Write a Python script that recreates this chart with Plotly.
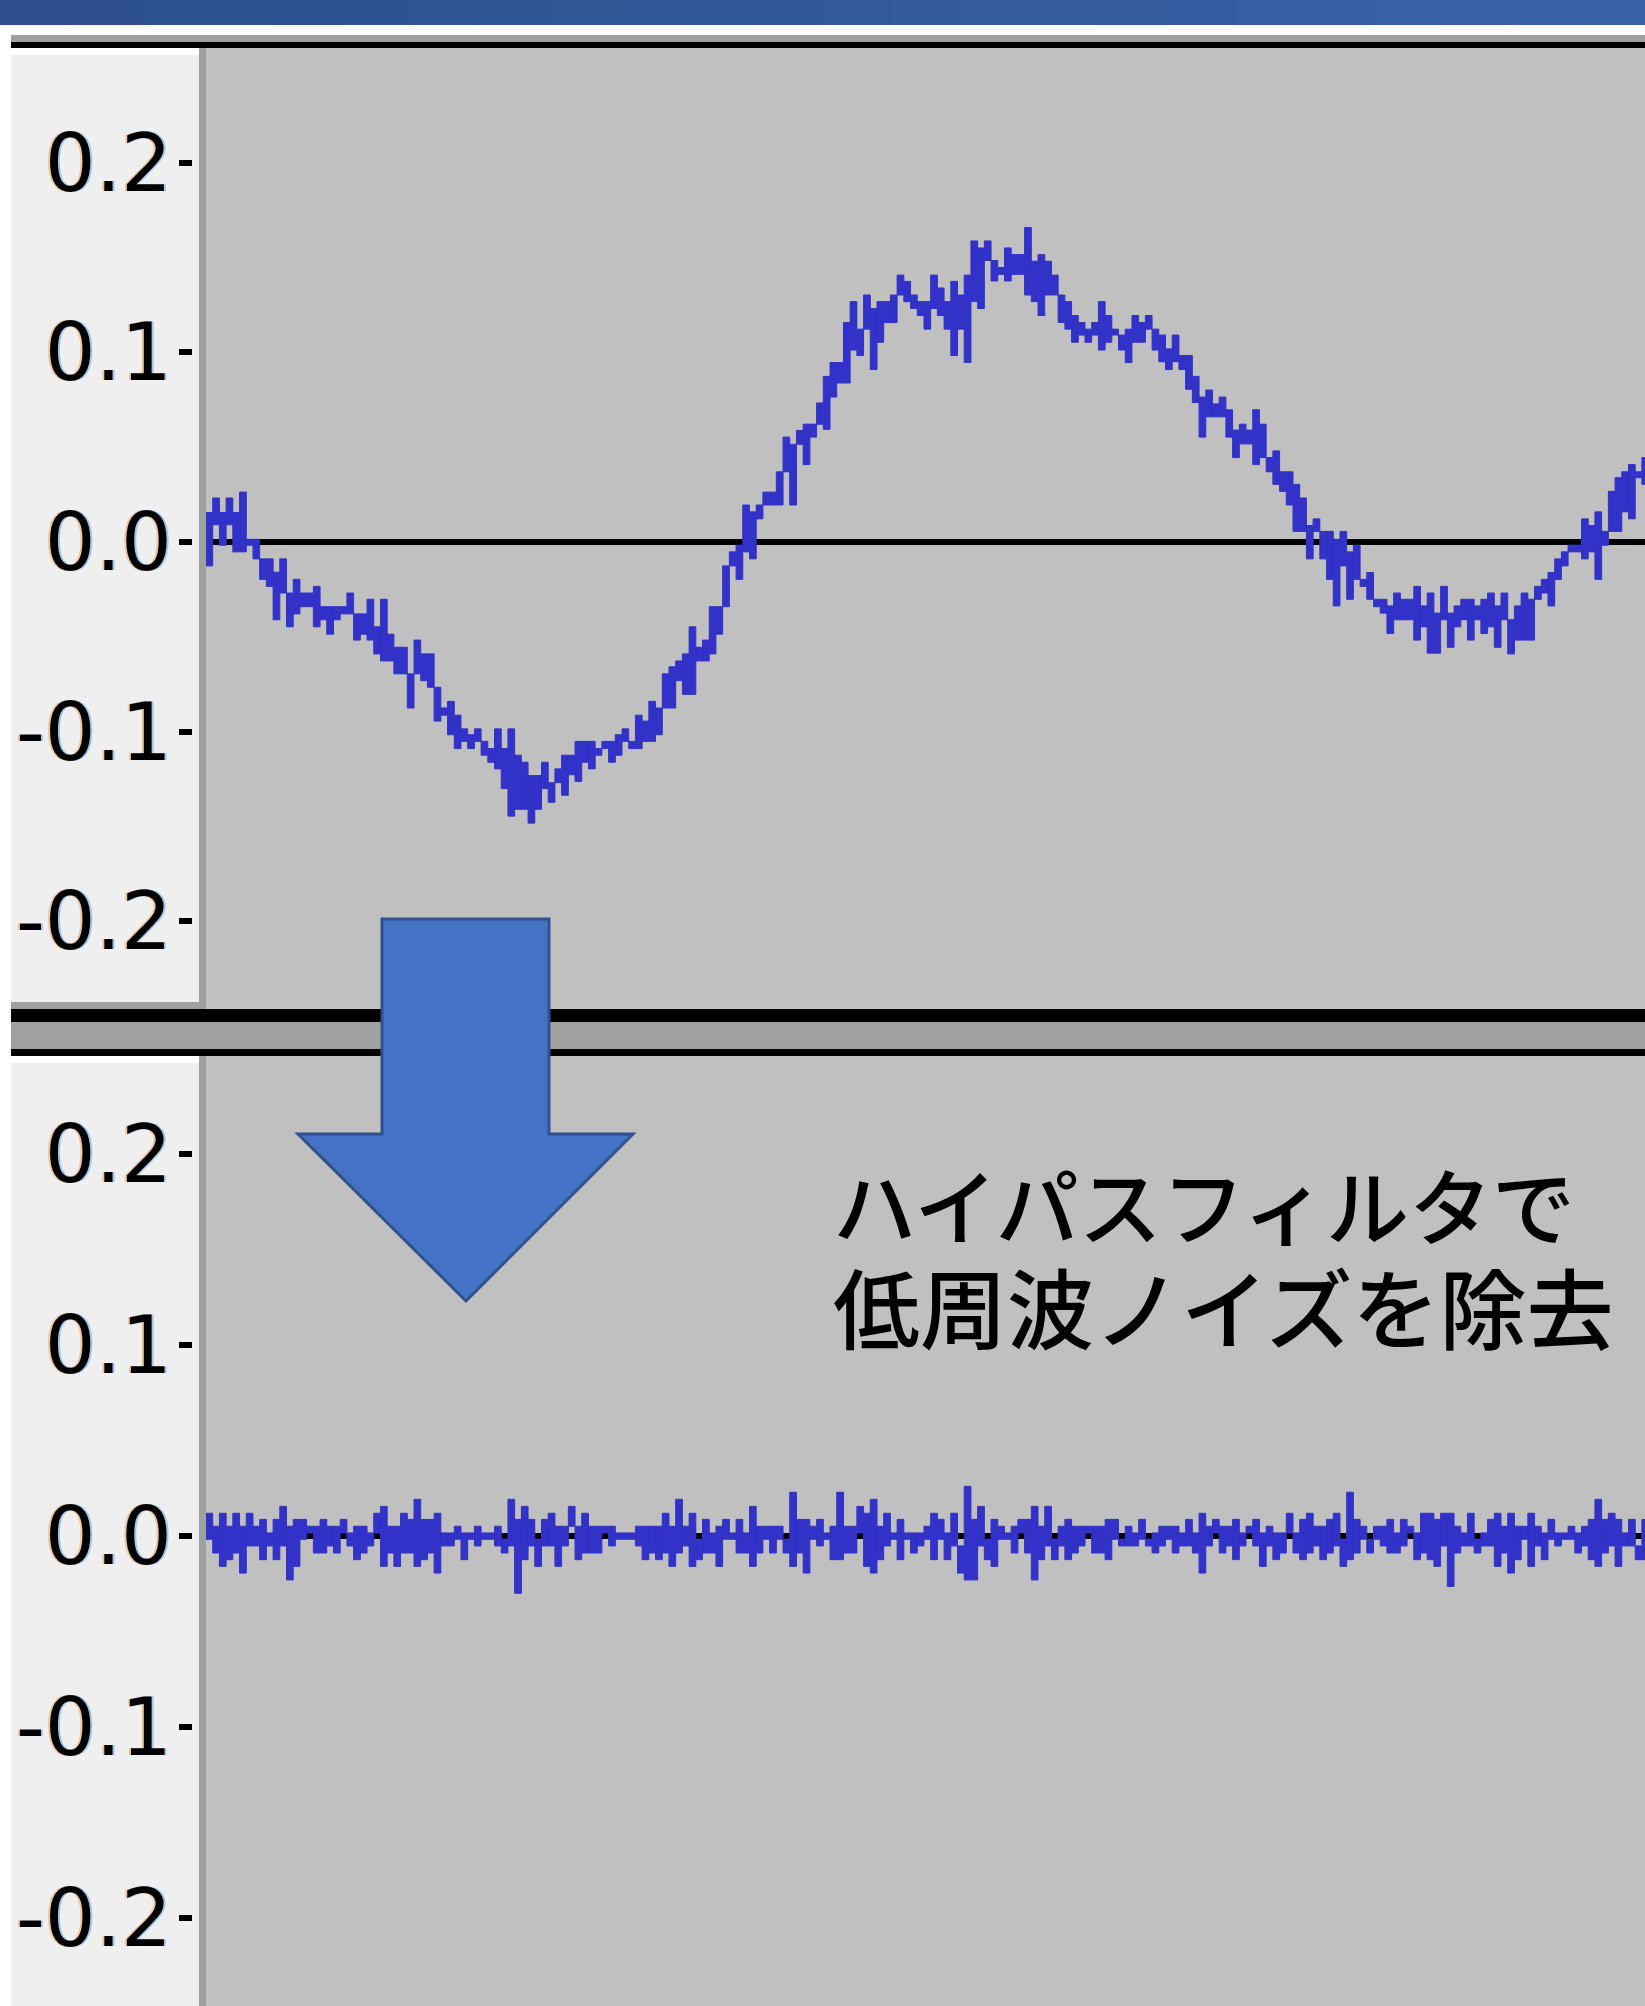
import plotly.graph_objects as go

W, H = 1645, 2006

# ---- waveform data: per screen column, the max (HI) and min (LO) sample value ----
TOP_HI = [
    0.0155, 0.0232, 0.0155, 0.0232, 0.0155, 0.0263, 0.0014, 0.0014, -0.0089, -0.0089,
    -0.0159, -0.0089, -0.0269, -0.0197, -0.0269, -0.0269, -0.0234, -0.0341, -0.0341, -0.0341,
    -0.0341, -0.0269, -0.0379, -0.0379, -0.0302, -0.0447, -0.0302, -0.0486, -0.0555, -0.0555,
    -0.0695, -0.0517, -0.0590, -0.0590, -0.0766, -0.0875, -0.0840, -0.0913, -0.0985, -0.1016,
    -0.0985, -0.1051, -0.1089, -0.0985, -0.1089, -0.0985, -0.1124, -0.1161, -0.1231, -0.1231,
    -0.1161, -0.1269, -0.1196, -0.1124, -0.1124, -0.1051, -0.1051, -0.1051, -0.1089, -0.1051,
    -0.1051, -0.1016, -0.0985, -0.1051, -0.0913, -0.0944, -0.0840, -0.0875, -0.0695, -0.0658,
    -0.0627, -0.0590, -0.0447, -0.0555, -0.0517, -0.0341, -0.0341, -0.0126, -0.0052, -0.0017,
    0.0195, 0.0159, 0.0195, 0.0263, 0.0263, 0.0370, 0.0553, 0.0515, 0.0588, 0.0621,
    0.0621, 0.0733, 0.0873, 0.0946, 0.0946, 0.1157, 0.1267, 0.1122, 0.1302, 0.1231,
    0.1267, 0.1267, 0.1302, 0.1407, 0.1374, 0.1302, 0.1267, 0.1267, 0.1407, 0.1339,
    0.1267, 0.1374, 0.1302, 0.1407, 0.1587, 0.1550, 0.1587, 0.1484, 0.1447, 0.1550,
    0.1515, 0.1515, 0.1658, 0.1480, 0.1515, 0.1480, 0.1407, 0.1302, 0.1267, 0.1194,
    0.1157, 0.1122, 0.1157, 0.1267, 0.1194, 0.1122, 0.1091, 0.1122, 0.1194, 0.1157,
    0.1194, 0.1122, 0.1091, 0.1018, 0.1091, 0.0983, 0.0983, 0.0873, 0.0764, 0.0801,
    0.0728, 0.0764, 0.0697, 0.0590, 0.0621, 0.0590, 0.0697, 0.0621, 0.0445, 0.0480,
    0.0370, 0.0370, 0.0304, 0.0232, 0.0087, 0.0122, 0.0056, 0.0056, 0.0014, 0.0056,
    -0.0052, -0.0017, -0.0197, -0.0161, -0.0302, -0.0302, -0.0337, -0.0269, -0.0302, -0.0302,
    -0.0234, -0.0337, -0.0269, -0.0375, -0.0234, -0.0375, -0.0337, -0.0302, -0.0302, -0.0337,
    -0.0302, -0.0269, -0.0337, -0.0269, -0.0410, -0.0337, -0.0269, -0.0302, -0.0234, -0.0197,
    -0.0161, -0.0089, -0.0052, -0.0017, -0.0017, 0.0122, 0.0087, 0.0159, 0.0056, 0.0267,
    0.0339, 0.0370, 0.0408, 0.0370, 0.0445,
]
TOP_LO = [
    -0.0126, 0.0091, -0.0017, 0.0091, -0.0052, -0.0052, -0.0017, -0.0089, -0.0197, -0.0234,
    -0.0410, -0.0269, -0.0447, -0.0379, -0.0341, -0.0341, -0.0447, -0.0410, -0.0486, -0.0410,
    -0.0379, -0.0379, -0.0517, -0.0486, -0.0517, -0.0590, -0.0627, -0.0627, -0.0695, -0.0695,
    -0.0875, -0.0695, -0.0731, -0.0766, -0.0944, -0.0913, -0.1016, -0.1089, -0.1051, -0.1089,
    -0.1051, -0.1124, -0.1161, -0.1196, -0.1300, -0.1445, -0.1409, -0.1409, -0.1482, -0.1409,
    -0.1300, -0.1372, -0.1269, -0.1335, -0.1227, -0.1262, -0.1161, -0.1196, -0.1124, -0.1089,
    -0.1161, -0.1124, -0.1051, -0.1089, -0.1089, -0.1051, -0.1051, -0.1016, -0.0875, -0.0875,
    -0.0731, -0.0803, -0.0803, -0.0627, -0.0627, -0.0590, -0.0486, -0.0341, -0.0126, -0.0197,
    -0.0052, -0.0089, 0.0122, 0.0195, 0.0195, 0.0195, 0.0370, 0.0195, 0.0515, 0.0408,
    0.0553, 0.0621, 0.0594, 0.0764, 0.0838, 0.0838, 0.1012, 0.0983, 0.1122, 0.0909,
    0.1053, 0.1157, 0.1157, 0.1302, 0.1267, 0.1231, 0.1194, 0.1122, 0.1231, 0.1194,
    0.1122, 0.0983, 0.1122, 0.0946, 0.1267, 0.1231, 0.1484, 0.1376, 0.1411, 0.1376,
    0.1411, 0.1411, 0.1302, 0.1267, 0.1194, 0.1302, 0.1302, 0.1157, 0.1122, 0.1053,
    0.1091, 0.1053, 0.1091, 0.1012, 0.1053, 0.1091, 0.1012, 0.0946, 0.1053, 0.1053,
    0.1122, 0.1012, 0.0950, 0.0909, 0.0950, 0.0909, 0.0805, 0.0735, 0.0553, 0.0660,
    0.0660, 0.0660, 0.0553, 0.0445, 0.0517, 0.0517, 0.0408, 0.0445, 0.0370, 0.0304,
    0.0267, 0.0195, 0.0056, 0.0056, -0.0089, 0.0056, -0.0089, -0.0197, -0.0337, -0.0126,
    -0.0302, -0.0197, -0.0234, -0.0302, -0.0341, -0.0375, -0.0482, -0.0410, -0.0410, -0.0410,
    -0.0517, -0.0447, -0.0586, -0.0586, -0.0410, -0.0555, -0.0447, -0.0410, -0.0517, -0.0410,
    -0.0482, -0.0447, -0.0555, -0.0410, -0.0590, -0.0517, -0.0517, -0.0517, -0.0302, -0.0269,
    -0.0337, -0.0197, -0.0126, -0.0052, -0.0052, -0.0089, -0.0052, -0.0197, -0.0017, 0.0056,
    0.0056, 0.0159, 0.0122, 0.0339, 0.0304,
]
BOT_HI = [
    0.0119, 0.0051, 0.0119, 0.0051, 0.0119, 0.0051, 0.0119, 0.0051, 0.0087, 0.0016,
    0.0087, 0.0155, 0.0051, 0.0087, 0.0087, 0.0051, 0.0051, 0.0087, 0.0051, 0.0051,
    0.0087, 0.0016, 0.0051, 0.0051, 0.0016, 0.0119, 0.0155, 0.0051, 0.0051, 0.0119,
    0.0087, 0.0192, 0.0087, 0.0087, 0.0119, 0.0016, 0.0016, 0.0051, 0.0016, 0.0016,
    0.0051, 0.0016, 0.0016, 0.0051, -0.0017, 0.0192, 0.0087, 0.0155, 0.0087, -0.0017,
    0.0087, 0.0119, 0.0051, 0.0051, 0.0155, 0.0051, 0.0119, 0.0051, 0.0051, 0.0051,
    0.0051, 0.0016, 0.0016, 0.0016, 0.0051, 0.0051, 0.0051, 0.0051, 0.0119, 0.0051,
    0.0192, 0.0051, 0.0119, -0.0017, 0.0087, 0.0016, 0.0051, 0.0087, 0.0016, 0.0087,
    0.0016, 0.0155, 0.0051, 0.0051, 0.0051, 0.0051, -0.0017, 0.0229, 0.0087, 0.0087,
    0.0051, 0.0087, 0.0016, 0.0051, 0.0229, 0.0051, 0.0051, 0.0155, 0.0119, 0.0192,
    0.0051, 0.0119, 0.0016, 0.0087, 0.0016, 0.0016, 0.0016, 0.0051, 0.0119, 0.0087,
    0.0016, 0.0119, -0.0052, 0.0260, 0.0087, 0.0155, -0.0017, 0.0087, 0.0051, 0.0016,
    0.0051, 0.0087, 0.0087, 0.0155, 0.0051, 0.0155, -0.0017, 0.0051, 0.0087, 0.0051,
    0.0051, 0.0051, 0.0051, 0.0051, 0.0087, 0.0087, -0.0017, 0.0051, 0.0016, 0.0087,
    -0.0017, 0.0016, 0.0051, 0.0051, 0.0051, 0.0016, 0.0087, 0.0016, 0.0119, 0.0051,
    0.0087, 0.0051, 0.0051, 0.0087, 0.0016, 0.0051, 0.0087, 0.0016, 0.0051, 0.0016,
    0.0016, 0.0119, 0.0016, 0.0087, 0.0119, 0.0051, 0.0051, 0.0087, 0.0119, -0.0017,
    0.0229, 0.0087, 0.0051, -0.0017, 0.0051, 0.0051, 0.0087, 0.0016, 0.0087, 0.0051,
    0.0016, 0.0119, 0.0119, 0.0087, 0.0119, 0.0119, 0.0051, 0.0016, 0.0119, -0.0017,
    0.0016, 0.0087, 0.0119, 0.0051, 0.0119, 0.0051, 0.0051, 0.0119, 0.0051, 0.0016,
    0.0087, 0.0016, 0.0016, 0.0051, 0.0016, 0.0051, 0.0087, 0.0192, 0.0087, 0.0119,
    0.0087, 0.0016, 0.0087, -0.0052, 0.0087,
]
BOT_LO = [
    -0.0017, -0.0089, -0.0159, -0.0124, -0.0089, -0.0194, -0.0052, -0.0052, -0.0124, -0.0052,
    -0.0124, -0.0052, -0.0230, -0.0159, -0.0017, 0.0016, -0.0089, -0.0089, -0.0052, -0.0089,
    0.0016, -0.0052, -0.0124, -0.0089, -0.0052, 0.0016, -0.0159, -0.0089, -0.0159, -0.0089,
    -0.0089, -0.0159, -0.0124, -0.0089, -0.0194, -0.0052, -0.0052, -0.0017, -0.0124, -0.0017,
    -0.0052, -0.0017, -0.0017, -0.0052, -0.0089, -0.0052, -0.0300, -0.0124, -0.0052, -0.0159,
    -0.0052, -0.0052, -0.0159, -0.0052, 0.0051, -0.0124, -0.0089, -0.0089, -0.0089, 0.0016,
    -0.0052, -0.0017, -0.0017, -0.0017, -0.0052, -0.0124, -0.0089, -0.0124, -0.0089, -0.0159,
    -0.0089, -0.0052, -0.0159, -0.0124, -0.0089, -0.0089, -0.0159, -0.0017, -0.0017, -0.0089,
    -0.0089, -0.0159, -0.0089, -0.0017, -0.0089, -0.0017, -0.0089, -0.0159, -0.0089, -0.0194,
    -0.0017, -0.0052, -0.0017, -0.0124, -0.0124, -0.0089, -0.0089, 0.0016, -0.0159, -0.0194,
    -0.0124, -0.0052, -0.0017, -0.0124, -0.0017, -0.0089, -0.0052, -0.0017, -0.0124, -0.0017,
    -0.0124, -0.0052, -0.0194, -0.0230, -0.0230, -0.0052, -0.0124, -0.0159, -0.0017, -0.0017,
    -0.0089, 0.0016, -0.0089, -0.0230, -0.0124, -0.0052, -0.0124, -0.0052, -0.0124, -0.0089,
    -0.0052, 0.0016, -0.0089, -0.0089, -0.0124, -0.0017, -0.0052, -0.0052, -0.0052, -0.0017,
    -0.0052, -0.0089, -0.0052, -0.0017, -0.0089, -0.0052, -0.0052, -0.0089, -0.0194, -0.0052,
    0.0016, -0.0089, -0.0052, -0.0124, -0.0052, 0.0016, -0.0052, -0.0159, -0.0052, -0.0124,
    -0.0089, 0.0016, -0.0089, -0.0124, -0.0089, -0.0052, -0.0124, -0.0089, -0.0052, -0.0159,
    -0.0124, -0.0089, -0.0017, -0.0089, -0.0017, -0.0052, -0.0089, -0.0089, -0.0052, 0.0016,
    -0.0124, -0.0089, -0.0124, -0.0159, -0.0052, -0.0264, -0.0089, -0.0052, -0.0052, -0.0089,
    -0.0052, -0.0052, -0.0159, -0.0089, -0.0194, -0.0124, -0.0017, -0.0159, -0.0052, -0.0124,
    -0.0017, -0.0052, -0.0017, -0.0017, -0.0089, -0.0052, -0.0124, -0.0159, -0.0089, -0.0052,
    -0.0159, -0.0052, -0.0052, -0.0124, -0.0124,
]

TICK_VALS = [-0.2, -0.1, 0.0, 0.1, 0.2]
TICK_TEXT = ["-0.2", "-0.1", "0.0", "0.1", "0.2"]
CAPTION = ["ハイパスフィルタで", "低周波ノイズを除去"]

WAVE_BLUE = "#3232c8"
PANEL_GRAY = "#c0c0c0"
RULER_BG = "#efefef"
BORDER_GRAY = "#a0a0a0"


def px(x):
    return x / W


def py(y):
    return 1 - y / H


def rect(x0, y0, x1, y1, color, layer="below"):
    return dict(type="rect", xref="paper", yref="paper",
                x0=px(x0), x1=px(x1), y0=py(y1), y1=py(y0),
                fillcolor=color, line=dict(width=0), layer=layer)


cols = list(range(len(TOP_HI)))
bar_style = dict(width=1, hoverinfo="skip",
                 marker=dict(color=WAVE_BLUE, line=dict(color=WAVE_BLUE, width=1)))
fig = go.Figure()
fig.add_trace(go.Bar(x=cols, base=TOP_LO, y=[h - l for h, l in zip(TOP_HI, TOP_LO)],
                     xaxis="x", yaxis="y", **bar_style))
fig.add_trace(go.Bar(x=cols, base=BOT_LO, y=[h - l for h, l in zip(BOT_HI, BOT_LO)],
                     xaxis="x2", yaxis="y2", **bar_style))

shapes = []
# title bar with a soft left-to-right gradient
n = 24
c0, c1 = (44, 79, 140), (58, 98, 168)
for i in range(n):
    t = i / (n - 1)
    c = tuple(round(a + (b - a) * t) for a, b in zip(c0, c1))
    shapes.append(rect(W * i / n, 0, W * (i + 1) / n + 1, 25, "rgb(%d,%d,%d)" % c))
# track separators
shapes.append(rect(11, 35, W, 42, BORDER_GRAY))
shapes.append(rect(11, 42, W, 48, "#000000"))
shapes.append(rect(11, 1009, W, 1022, "#000000"))
shapes.append(rect(11, 1022, W, 1049, BORDER_GRAY))
shapes.append(rect(11, 1049, W, 1056, "#000000"))
# vertical rulers
shapes.append(rect(11, 55, 199, 1002, RULER_BG))
shapes.append(rect(11, 1002, 206, 1009, BORDER_GRAY))
shapes.append(rect(199, 48, 206, 1009, BORDER_GRAY))
shapes.append(rect(11, 1063, 199, H, RULER_BG))
shapes.append(rect(199, 1056, 206, H, BORDER_GRAY))

# downward arrow
ax0, ax1, ay0, ay1 = 382, 549, 919, 1134
hx0, hx1, tipx, tipy = 298, 633, 466, 1301
path = "M {} {} L {} {} L {} {} L {} {} L {} {} L {} {} L {} {} Z".format(
    px(ax0), py(ay0), px(ax1), py(ay0), px(ax1), py(ay1), px(hx1), py(ay1),
    px(tipx), py(tipy), px(hx0), py(ay1), px(ax0), py(ay1))
shapes.append(dict(type="path", xref="paper", yref="paper", path=path,
                   fillcolor="#4472c4", line=dict(color="#2f528f", width=3),
                   layer="above"))

# two-line caption in a single text block (80px base -> 104px line pitch)
caption_html = ("<span style='font-size:83px'>%s</span><br>"
                "<span style='font-size:87px'>%s</span>") % (CAPTION[0], CAPTION[1])
annotations = [dict(text=caption_html, xref="paper", yref="paper",
                    x=px(831), y=py(1255), xanchor="left", yanchor="middle",
                    align="left", showarrow=False,
                    font=dict(family="Noto Sans CJK JP", size=80,
                              color="#000000", weight=500))]

x_range = [-0.5, 213.96]
ax_common = dict(showgrid=False, zeroline=False, showticklabels=False,
                 showline=False, ticks="", range=x_range, fixedrange=True)
y_common = dict(tickvals=TICK_VALS, ticktext=TICK_TEXT, showgrid=False,
                zeroline=True, zerolinecolor="#000000", zerolinewidth=6,
                showline=False, ticks="outside", ticklen=13, tickwidth=6,
                tickcolor="#000000", anchor="free", position=px(192),
                ticklabelstandoff=-9,
                tickfont=dict(family="DejaVu Sans", size=80, color="#000000",
                              shadow="-2px 0 0 rgba(235,165,90,0.55), "
                                     "2px 0 0 rgba(95,165,235,0.55)"),
                fixedrange=True)

fig.update_layout(
    width=W, height=H,
    margin=dict(l=0, r=0, t=0, b=0),
    paper_bgcolor="#ffffff", plot_bgcolor=PANEL_GRAY,
    showlegend=False, barmode="overlay",
    xaxis=dict(domain=[px(206), 1], anchor="y", **ax_common),
    xaxis2=dict(domain=[px(206), 1], anchor="y2", **ax_common),
    yaxis=dict(domain=[py(1009), py(48)],
               range=[-(1009 - 542) / 1897, (542 - 48) / 1897], **y_common),
    yaxis2=dict(domain=[py(H), py(1056)],
                range=[-(H - 1536) / 1910, (1536 - 1056) / 1910], **y_common),
    shapes=shapes, annotations=annotations,
)

fig.write_html("out.html", post_script="document.body.style.margin='0';")
